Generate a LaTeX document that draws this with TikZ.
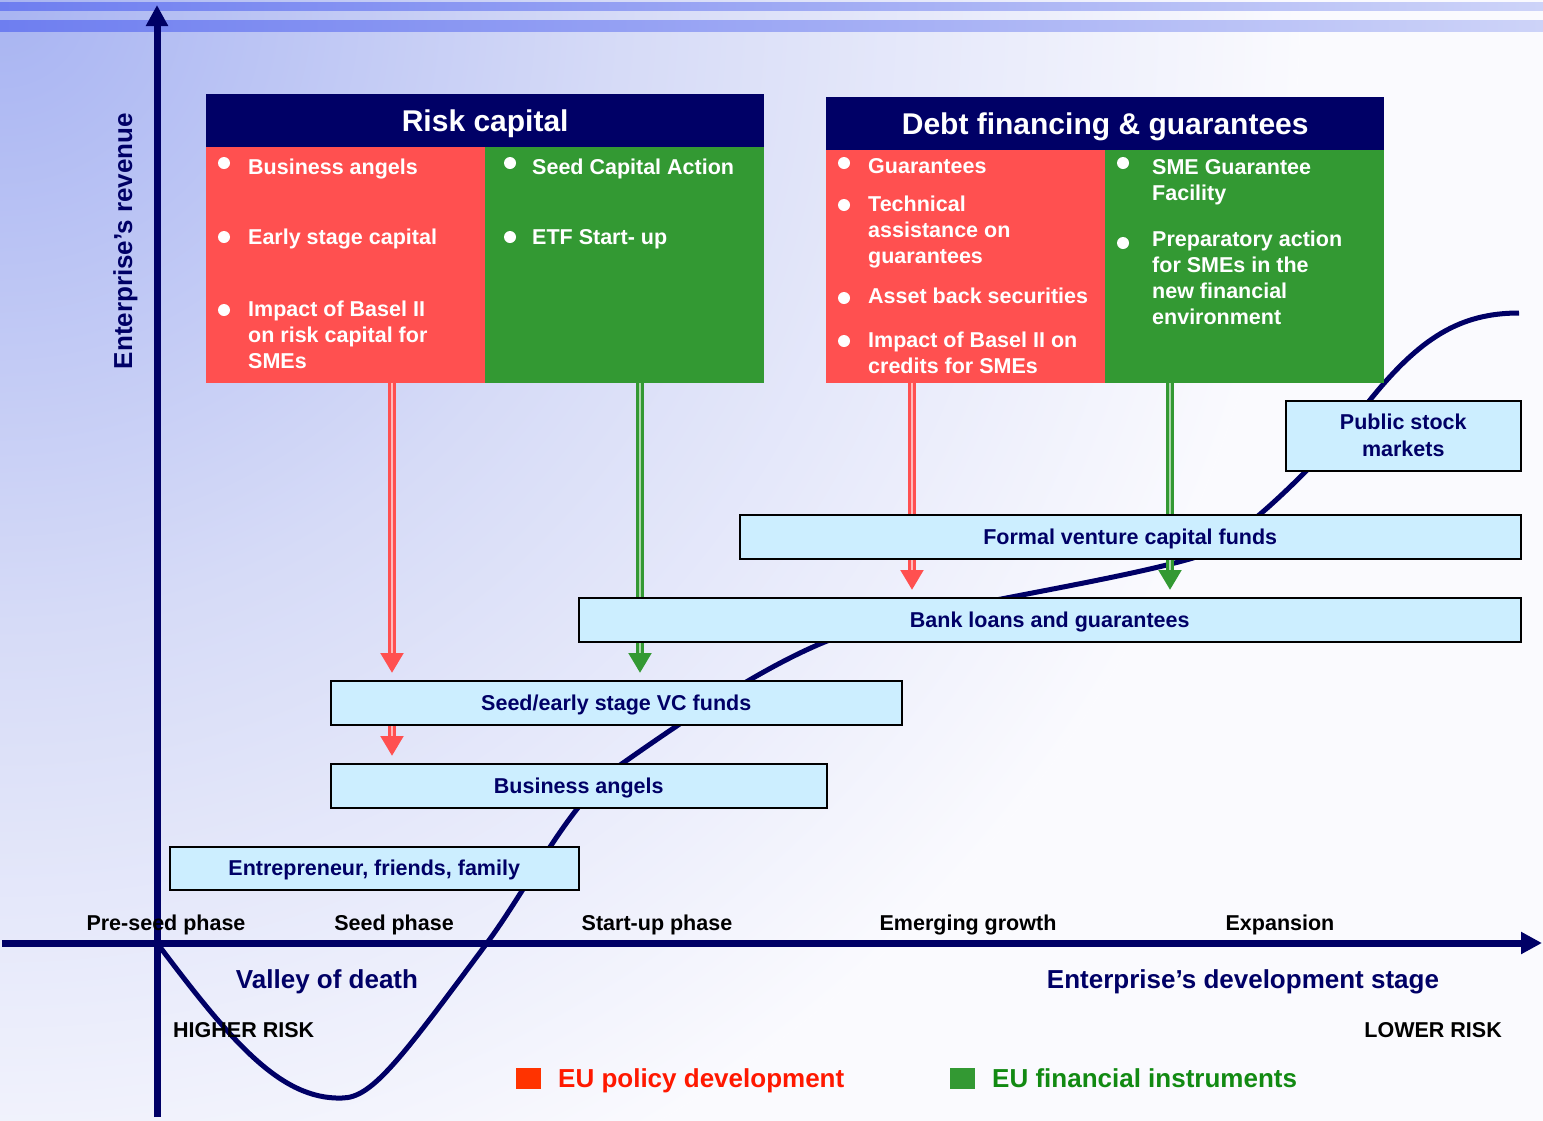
\documentclass[tikz,border=0pt]{standalone}
\usepackage{fontspec}
\setmainfont{Liberation Sans}
\usetikzlibrary{arrows.meta}

\definecolor{navy}{HTML}{000066}
\definecolor{panelred}{HTML}{FF5050}
\definecolor{panelgreen}{HTML}{339933}
\definecolor{fundblue}{HTML}{CCEEFF}
\definecolor{bgtop}{HTML}{A8B4F2}
\definecolor{bgmid}{HTML}{D6DBF7}
\definecolor{bgbot}{HTML}{FAFAFE}
\definecolor{stripeleft}{HTML}{6E7EF0}
\definecolor{striperight}{HTML}{CDD3F8}
\definecolor{keyred}{HTML}{FF3300}
\definecolor{keyredtext}{HTML}{FF1800}
\definecolor{keygreentext}{HTML}{128A12}

\pgfdeclareradialshading{backdrop}{\pgfpoint{0bp}{0bp}}{color(0bp)=(bgtop);
  color(12bp)=(bgmid); color(25bp)=(bgbot); color(50bp)=(bgbot)}

\pgfdeclarelayer{backdrop}
\pgfdeclarelayer{links}
\pgfsetlayers{backdrop,links,main}

\begin{document}
\begin{tikzpicture}[x=1pt,y=-1pt]

\tikzset{head/.style={anchor=north west,fill=navy,text=white,inner sep=0pt,
  minimum width=558pt,minimum height=53pt,text height=21.5pt,text depth=0pt,
  font=\fontsize{30}{36}\selectfont\bfseries}}
\tikzset{panel/.style={anchor=north west,inner sep=0pt,minimum width=279pt}}
\tikzset{entry/.style={anchor=base west,inner sep=0pt,align=left,text=white,
  font=\fontsize{21.5}{26}\selectfont\bfseries}}
\tikzset{fund/.style={anchor=north west,draw=black,line width=1.5pt,fill=fundblue,
  text=navy,inner sep=0pt,align=center,font=\fontsize{21.5}{27}\selectfont\bfseries}}
\tikzset{single/.style={text height=15.4pt,text depth=0pt}}
\tikzset{phase/.style={anchor=base,inner sep=0pt,font=\fontsize{21.5}{26}\selectfont\bfseries}}
\tikzset{axis/.style={draw=navy,line width=7pt,-{Triangle[width=21pt,length=21pt]}}}
\tikzset{growth/.style={draw=navy,line width=5pt}}

\useasboundingbox (0,0) rectangle (1543,1120);

\begin{pgfonlayer}{backdrop}
%background
\begin{scope}
  \clip (0,0) rectangle (1543,1120);
  \shade[shading=backdrop] (0,0) circle (1300pt);
  \fill[bgbot] (0,0) circle (1300pt) [even odd rule] (-2000,-2000) rectangle (3000,3000);
\end{scope}
\shade[left color=stripeleft,right color=striperight] (0,2) rectangle (1543,10);
\shade[left color=stripeleft,right color=striperight] (0,20) rectangle (1543,31);

%growth curve
\draw[growth] (157,943) .. controls (230,1040) and (280,1100) .. (342,1098)
  .. controls (372,1098) and (400,1060) .. (487,943)
  .. controls (530,885) and (570,800) .. (623,763)
  .. controls (680,723) and (760,668) .. (827,641)
  .. controls (900,612) and (1100,585) .. (1193,558)
  .. controls (1240,544) and (1330,450) .. (1370,400)
  .. controls (1420,338) and (1460,313) .. (1519,313);
\end{pgfonlayer}

%risk capital box
\node[head] (rchead) at (206,94) {Risk capital};
\node[panel,fill=panelred,minimum height=236pt] (rcred) at (206,147) {};
\node[panel,fill=panelgreen,minimum height=236pt] (rcgreen) at (485,147) {};

%debt financing box
\node[head] (dfhead) at (826,97) {Debt financing \& guarantees};
\node[panel,fill=panelred,minimum height=233pt] (dfred) at (826,150) {};
\node[panel,fill=panelgreen,minimum height=233pt] (dfgreen) at (1105,150) {};

%funding sources
\node[fund,minimum width=235pt,minimum height=70pt] (pubmkt) at (1285,400) {Public stock\\markets};
\node[fund,single,minimum width=781pt,minimum height=44pt] (formalvc) at (739,514) {Formal venture capital funds};
\node[fund,single,minimum width=942pt,minimum height=44pt] (bankloan) at (578,597) {Bank loans and guarantees};
\node[fund,single,minimum width=571pt,minimum height=44pt] (seedvc) at (330,680) {Seed/early stage VC funds};
\node[fund,single,minimum width=496pt,minimum height=44pt] (bangels) at (330,763) {Business angels};
\node[fund,single,minimum width=409pt,minimum height=43pt] (founders) at (169,846) {Entrepreneur, friends, family};

%arrows from the EU boxes, under the funds
\begin{pgfonlayer}{links}
\foreach \x/\from/\to/\col in {392/rcred/seedvc/panelred,392/seedvc/bangels/panelred,
  640/rcgreen/seedvc/panelgreen,912/dfred/bankloan/panelred,1170/dfgreen/bankloan/panelgreen}{
  \draw[draw=\col,line width=7.5pt,-{Triangle[width=22pt,length=20pt]},shorten >=7pt]
    (\x,0 |- \from.south) -- (\x,0 |- \to.north);
  \draw[draw=\col!40!white,line width=2pt,shorten >=27pt]
    (\x,0 |- \from.south) -- (\x,0 |- \to.north);
}
\end{pgfonlayer}

%items (placed at the baseline of their last line)
\node[entry] (rc1) at (248,174) {Business angels};
\node[entry] (rc2) at (248,244) {Early stage capital};
\node[entry] (rc3) at (248,368) {Impact of Basel II\\on risk capital for\\SMEs};
\node[entry] (rc4) at (532,174) {Seed Capital Action};
\node[entry] (rc5) at (532,244) {ETF Start- up};
\node[entry] (df1) at (868,173) {Guarantees};
\node[entry] (df2) at (868,263) {Technical\\assistance on\\guarantees};
\node[entry] (df3) at (868,303) {Asset back securities};
\node[entry] (df4) at (868,373) {Impact of Basel II on\\credits for SMEs};
\node[entry] (df5) at (1152,200) {SME Guarantee\\Facility};
\node[entry] (df6) at (1152,324) {Preparatory action\\for SMEs in the\\new financial\\environment};

\foreach \n/\dx/\dy in {rc1/-24/-11,rc2/-24/-7,rc3/-24/-58,rc4/-22/-11,rc5/-22/-7,
  df1/-24/-10,df2/-24/-58,df3/-24/-5,df4/-24/-32,df5/-29/-37,df6/-29/-81}
  \fill[white] ([shift={(\dx,\dy)}]\n.base west) circle (6pt);

%axes
\coordinate (origin) at (157,943);
\coordinate (ytop) at (157,5);
\coordinate (ybot) at (157,1117);
\coordinate (xleft) at (2,943);
\coordinate (xright) at (1542,943);
\draw[axis] (ybot) -- (ytop);
\draw[axis] (xleft) -- (xright);

\node[rotate=90,anchor=base,inner sep=0pt,text=navy,font=\fontsize{26}{30}\selectfont\bfseries]
  (revenue) at (132,241) {Enterprise’s revenue};

%phases
\node[phase] (preseed) at (166,930) {Pre-seed phase};
\node[phase] (seed) at (394,930) {Seed phase};
\node[phase] (startup) at (657,930) {Start-up phase};
\node[phase] (emerging) at (968,930) {Emerging growth};
\node[phase] (expansion) at (1280,930) {Expansion};

\node[phase,text=navy,font=\fontsize{26}{30}\selectfont\bfseries] (valley) at (327,988) {Valley of death};
\node[phase,text=navy,font=\fontsize{26}{30}\selectfont\bfseries] (devstage) at (1243,988) {Enterprise’s development stage};
\node[phase,anchor=base west] (highrisk) at (173,1037) {HIGHER RISK};
\node[phase,anchor=base east] (lowrisk) at (1502,1037) {LOWER RISK};

%legend
\node[anchor=north west,fill=keyred,minimum width=25pt,minimum height=21pt,inner sep=0pt] (polkey) at (516,1068) {};
\node[phase,anchor=base west,text=keyredtext,font=\fontsize{26}{30}\selectfont\bfseries] (poltext) at (558,1087) {EU policy development};
\node[anchor=north west,fill=panelgreen,minimum width=25pt,minimum height=21pt,inner sep=0pt] (finkey) at (950,1068) {};
\node[phase,anchor=base west,text=keygreentext,font=\fontsize{26}{30}\selectfont\bfseries] (fintext) at (992,1087) {EU financial instruments};

\end{tikzpicture}
\end{document}
